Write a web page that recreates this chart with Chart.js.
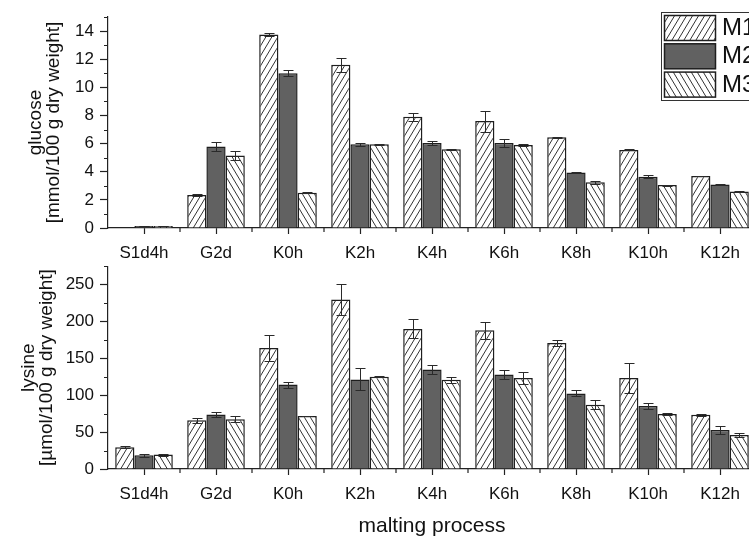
<!DOCTYPE html>
<html>
<head>
<meta charset="utf-8">
<script src="https://cdn.jsdelivr.net/npm/chart.js@4.4.0/dist/chart.umd.min.js"></script>
<style>
  html, body { margin: 0; padding: 0; background: #fff; overflow: hidden; }
  #wrap { position: relative; width: 749px; height: 538px; overflow: hidden; }
  #topChart { position: absolute; left: 0; top: 0; }
  #botChart { position: absolute; left: 0; top: 250px; }
</style>
</head>
<body>
<div id="wrap">
  <canvas id="topChart" width="757" height="258"></canvas>
  <canvas id="botChart" width="757" height="288"></canvas>
</div>
<script>
// malting stages on the x axis
const stages = ['S1d4h', 'G2d', 'K0h', 'K2h', 'K4h', 'K6h', 'K8h', 'K10h', 'K12h'];
const seriesNames = ['M1', 'M2', 'M3'];

// glucose, mmol/100 g dry weight
const glucoseM1 = [0, 2.35, 13.75, 11.6, 7.9, 7.6, 6.45, 5.55, 3.7];
const glucoseM2 = [0.15, 5.8, 11.0, 5.95, 6.05, 6.05, 3.95, 3.65, 3.1];
const glucoseM3 = [0.15, 5.15, 2.5, 5.95, 5.6, 5.9, 3.25, 3.05, 2.6];
const glucoseM1Err = [0, 0.04, 0.1, 0.5, 0.3, 0.75, 0.04, 0.04, 0.03];
const glucoseM2Err = [0.02, 0.3, 0.2, 0.12, 0.15, 0.3, 0.04, 0.12, 0.05];
const glucoseM3Err = [0.02, 0.35, 0.03, 0.05, 0.05, 0.06, 0.12, 0.03, 0.03];

// lysine, umol/100 g dry weight
const lysineM1 = [29.5, 66, 164, 230, 190, 188, 171, 123.5, 73.5];
const lysineM2 = [18.5, 74, 114.5, 121.5, 135, 128, 102.5, 85.5, 53];
const lysineM3 = [19.5, 67.5, 72, 125, 121, 123.5, 87, 74.5, 46];
const lysineM1Err = [1.5, 3, 18, 21, 13, 12, 4, 20, 1];
const lysineM2Err = [2, 3, 4, 15, 6, 6, 4, 4, 5];
const lysineM3Err = [1.5, 4, 0.5, 0.5, 4, 8, 6, 1, 3];

Chart.defaults.font.family = '"Liberation Sans", Arial, sans-serif';
Chart.defaults.color = '#222';

// diagonal hatch fill; dir 1 = "///", -1 = "\\\"
function hatch(dir) {
    var c = document.createElement('canvas');
    c.width = 6; c.height = 10;
    var g = c.getContext('2d');
    g.fillStyle = '#fff';
    g.fillRect(0, 0, 6, 10);
    g.strokeStyle = '#333';
    g.lineWidth = 1;
    g.beginPath();
    for (var k = -1; k <= 1; k++) {
        if (dir > 0) { g.moveTo(k * 6, 10); g.lineTo((k + 1) * 6, 0); }
        else { g.moveTo(k * 6, 0); g.lineTo((k + 1) * 6, 10); }
    }
    g.stroke();
    return g.createPattern(c, 'repeat');
}
var fills = [hatch(1), '#616161', hatch(-1)];

var errorBars = {
    id: 'errorBars',
    afterDatasetsDraw: function (chart) {
        var ctx = chart.ctx, y = chart.scales.y;
        ctx.save();
        ctx.strokeStyle = '#2a2a2a';
        ctx.lineWidth = 1;
        chart.data.datasets.forEach(function (ds, i) {
            chart.getDatasetMeta(i).data.forEach(function (bar, j) {
                var e = ds.errors[j];
                if (!e) return;
                var yt = Math.round(y.getPixelForValue(ds.data[j] + e)) + 0.5;
                var yb = Math.round(y.getPixelForValue(ds.data[j] - e)) + 0.5;
                var x = Math.round(bar.x) + 0.5;
                ctx.beginPath();
                ctx.moveTo(x, yt); ctx.lineTo(x, yb);
                ctx.moveTo(x - 5, yt); ctx.lineTo(x + 5, yt);
                ctx.moveTo(x - 5, yb); ctx.lineTo(x + 5, yb);
                ctx.stroke();
            });
        });
        ctx.restore();
    }
};

// small ticks: odd steps on y, group boundaries on x
var minorTicks = {
    id: 'minorTicks',
    afterDraw: function (chart, args, opts) {
        var ctx = chart.ctx, y = chart.scales.y, x = chart.scales.x;
        var area = chart.chartArea;
        ctx.save();
        ctx.strokeStyle = '#222';
        ctx.lineWidth = 1.2;
        ctx.beginPath();
        for (var v = opts.step; v <= y.max + 1e-9; v += 2 * opts.step) {
            var py = Math.round(y.getPixelForValue(v)) + 0.5;
            ctx.moveTo(area.left, py); ctx.lineTo(area.left - 4, py);
        }
        for (var i = 0; i < stages.length; i++) {
            var px = Math.round(x.getPixelForValue(i) + (x.getPixelForValue(1) - x.getPixelForValue(0)) / 2);
            ctx.moveTo(px, area.bottom); ctx.lineTo(px, area.bottom + 4);
        }
        ctx.stroke();
        ctx.restore();
    }
};

var legendBox = {
    id: 'legendBox',
    afterDraw: function (chart, args, opts) {
        if (!opts.show) return;
        var ctx = chart.ctx;
        ctx.save();
        ctx.strokeStyle = '#333';
        ctx.lineWidth = 1;
        ctx.strokeRect(661.5, 12.5, 120, 88);
        chart.data.datasets.forEach(function (ds, i) {
            var top = 15.5 + i * 28.3;
            ctx.fillStyle = ds.backgroundColor;
            ctx.fillRect(664, top, 52, 25);
            ctx.strokeStyle = '#1e1e1e';
            ctx.lineWidth = 1.5;
            ctx.strokeRect(664.5, top, 51, 25);
            ctx.fillStyle = '#111';
            ctx.font = '24px "Liberation Sans", Arial, sans-serif';
            ctx.textBaseline = 'middle';
            ctx.fillText(ds.label, 722, top + 13);
        });
        ctx.restore();
    }
};

function makeChart(id, series, errs, yMax, major, yTitle, titlePad, padTop, xHeight, xTitle, showLegend) {
    var ctx = document.getElementById(id).getContext('2d');
    var datasets = series.map(function (d, i) {
        return {
            label: seriesNames[i],
            data: d,
            errors: errs[i],
            backgroundColor: fills[i],
            borderColor: '#1e1e1e',
            borderWidth: 1.5,
            barPercentage: 1,
            categoryPercentage: 0.8
        };
    });
    return new Chart(ctx, {
        type: 'bar',
        data: { labels: stages, datasets: datasets },
        options: {
            responsive: false,
            animation: false,
            layout: { padding: { top: padTop, left: 0, right: 1, bottom: 0 } },
            plugins: {
                legend: { display: false },
                tooltip: { enabled: false },
                minorTicks: { step: major / 2 },
                legendBox: { show: showLegend }
            },
            scales: {
                x: {
                    offset: true,
                    afterFit: function (s) { s.height = xHeight; },
                    grid: { offset: false, drawOnChartArea: false, tickLength: 6, tickColor: '#222', tickWidth: 1.2 },
                    border: { color: '#222', width: 1.2 },
                    ticks: { font: { size: 17 }, color: '#111', padding: 9, maxRotation: 0, autoSkip: false },
                    title: xTitle ? { display: true, text: xTitle, font: { size: 21, lineHeight: 1.0 }, color: '#111', padding: { top: 0, bottom: 1 } } : { display: false }
                },
                y: {
                    min: 0,
                    max: yMax,
                    afterFit: function (s) { s.width = 108; },
                    ticks: { stepSize: major, includeBounds: false, font: { size: 17 }, color: '#111', padding: 6 },
                    grid: { drawOnChartArea: false, tickLength: 8, tickColor: '#222', tickWidth: 1.2 },
                    border: { color: '#222', width: 1.2 },
                    title: { display: true, text: yTitle, font: { size: 19, lineHeight: 0.95 }, color: '#111', padding: { top: titlePad, bottom: 0 } }
                }
            }
        },
        plugins: [errorBars, minorTicks, legendBox]
    });
}

makeChart('topChart',
    [glucoseM1, glucoseM2, glucoseM3],
    [glucoseM1Err, glucoseM2Err, glucoseM3Err],
    15, 2, ['glucose', '[mmol/100 g dry weight]'], 27, 17, 30, null, true);

makeChart('botChart',
    [lysineM1, lysineM2, lysineM3],
    [lysineM1Err, lysineM2Err, lysineM3Err],
    275, 50, ['lysine', '[µmol/100 g dry weight]'], 20, 9, 69, 'malting process', false);
</script>
</body>
</html>
